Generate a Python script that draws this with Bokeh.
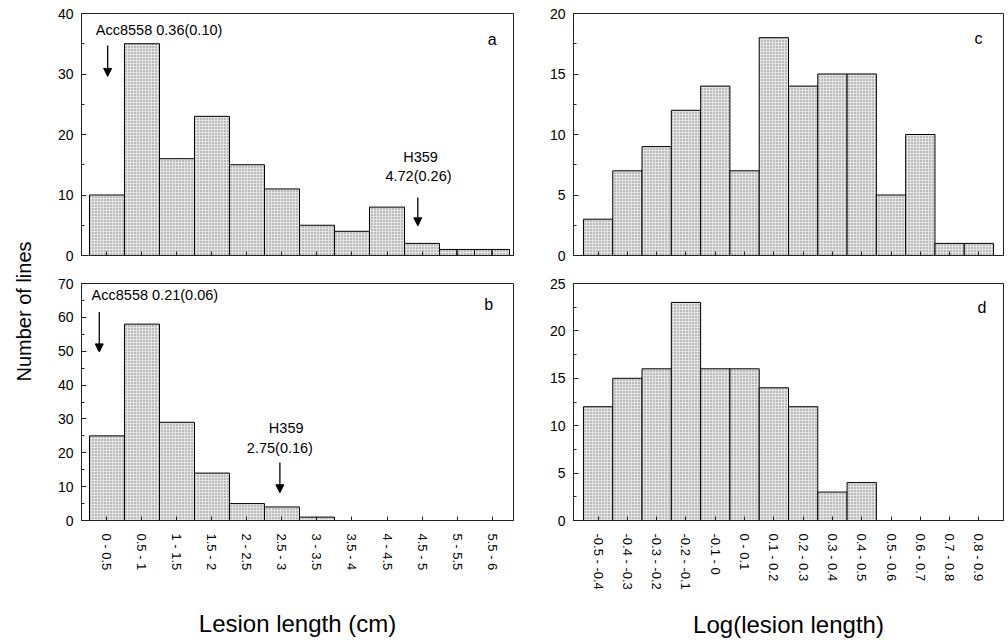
from bokeh.plotting import figure
from bokeh.models import Range1d, FixedTicker, SingleIntervalTicker, Label, Arrow, NormalHead
from bokeh.layouts import row, column
from bokeh.embed import file_html
from bokeh.resources import INLINE

# ---------------- data ----------------
length_labels = ["0 - 0.5", "0.5 - 1", "1 - 1.5", "1.5 - 2", "2 - 2.5", "2.5 - 3",
                 "3 - 3.5", "3.5 - 4", "4 - 4.5", "4.5 - 5", "5 - 5.5", "5.5 - 6"]
length_edges = [0.0, 0.5, 1.0, 1.5, 2.0, 2.5, 3.0, 3.5, 4.0, 4.5, 5.0, 5.5, 6.0]

a_bar_edges = [0.0, 0.5, 1.0, 1.5, 2.0, 2.5, 3.0, 3.5, 4.0, 4.5, 5.0, 5.25, 5.5, 5.75, 6.0]
a_counts = [10, 35, 16, 23, 15, 11, 5, 4, 8, 2, 1, 1, 1, 1]

b_bar_edges = [0.0, 0.5, 1.0, 1.5, 2.0, 2.5, 3.0, 3.5]
b_counts = [25, 58, 29, 14, 5, 4, 1]

log_labels = ["-0.5 - -0.4", "-0.4 - -0.3", "-0.3 - -0.2", "-0.2 - -0.1", "-0.1 - 0",
              "0 - 0.1", "0.1 - 0.2", "0.2 - 0.3", "0.3 - 0.4", "0.4 - 0.5",
              "0.5 - 0.6", "0.6 - 0.7", "0.7 - 0.8", "0.8 - 0.9"]
log_edges = [-0.5, -0.4, -0.3, -0.2, -0.1, 0.0, 0.1, 0.2, 0.3, 0.4, 0.5, 0.6, 0.7, 0.8, 0.9]

c_counts = [3, 7, 9, 12, 14, 7, 18, 14, 15, 15, 5, 10, 1, 1]
d_counts = [12, 15, 16, 23, 16, 16, 14, 12, 3, 4]

FONT = "Liberation Sans"
FILL = "#e4e4e4"


def centers(edges):
    return [round((edges[i] + edges[i + 1]) / 2, 4) for i in range(len(edges) - 1)]


def panel(width, height, xr, yr, yint, tick_edges, tick_labels, show_labels,
          mbl, mbr, mbt, mbb, xlabel=None, xlabel_standoff=10):
    p = figure(width=width, height=height, x_range=Range1d(*xr), y_range=Range1d(*yr),
               output_backend="svg", toolbar_location=None,
               min_border_left=mbl, min_border_right=mbr,
               min_border_top=mbt, min_border_bottom=mbb)
    p.grid.visible = False
    p.outline_line_color = "#222222"
    p.outline_line_width = 1
    p.background_fill_color = "white"
    p.border_fill_color = "white"

    cs = centers(tick_edges)
    xa = p.xaxis[0]
    xa.axis_line_color = "#222222"
    if show_labels:
        xa.ticker = FixedTicker(ticks=cs)
        xa.major_tick_in = 4
        xa.major_tick_out = 0
        xa.major_tick_line_color = "#222222"
        xa.minor_tick_line_color = None
        xa.major_label_overrides = {c: l for c, l in zip(cs, tick_labels)}
        xa.major_label_orientation = "vertical"
        xa.major_label_text_font = FONT
        xa.major_label_text_font_size = "13px"
        xa.major_label_text_color = "black"
        xa.major_label_standoff = 13
    else:
        xa.ticker = FixedTicker(ticks=[], minor_ticks=cs)
        xa.minor_tick_in = 4
        xa.minor_tick_out = 0
        xa.minor_tick_line_color = "#222222"
        xa.major_tick_line_color = None
    if xlabel:
        xa.axis_label = xlabel
        xa.axis_label_text_font = FONT
        xa.axis_label_text_font_size = "24px"
        xa.axis_label_text_font_style = "normal"
        xa.axis_label_text_color = "black"
        xa.axis_label_standoff = xlabel_standoff

    ya = p.yaxis[0]
    ya.ticker = SingleIntervalTicker(interval=yint, num_minor_ticks=2)
    ya.major_tick_in = 5
    ya.major_tick_out = 0
    ya.minor_tick_in = 3
    ya.minor_tick_out = 0
    ya.axis_line_color = "#222222"
    ya.major_tick_line_color = "#222222"
    ya.minor_tick_line_color = "#222222"
    ya.major_label_text_font = FONT
    ya.major_label_text_font_size = "14px"
    ya.major_label_text_color = "black"
    ya.major_label_standoff = 8
    return p


def bars(p, edges, counts):
    p.quad(left=edges[:-1], right=edges[1:], bottom=0, top=counts,
           fill_color=FILL, line_color="black", line_width=1,
           hatch_pattern="dot", hatch_color="#7a7a7a", hatch_scale=3, hatch_weight=1)


def label(p, x, y, text, align="left", size="14.5px"):
    p.add_layout(Label(x=x, y=y, text=text, text_font=FONT, text_font_size=size,
                       text_align=align, text_baseline="middle", text_color="black"))


def arrow(p, x, y0, y1):
    p.add_layout(Arrow(end=NormalHead(size=8, fill_color="black", line_color="black"),
                       x_start=x, y_start=y0, x_end=x, y_end=y1,
                       line_color="black", line_width=1.3))


# ---------------- panels ----------------
XR_LEN = (-0.114, 6.057)
XR_LOG = (-0.534, 0.934)

pa = panel(486, 270, XR_LEN, (0, 40), 10, length_edges, length_labels, False,
           41, 13, 13, 15)
bars(pa, a_bar_edges, a_counts)
label(pa, 0.09, 37.2, "Acc8558 0.36(0.10)")
arrow(pa, 0.26, 34.7, 29.6)
label(pa, 4.73, 16.2, "H359", align="center")
label(pa, 4.70, 13.2, "4.72(0.26)", align="center")
arrow(pa, 4.69, 9.6, 4.9)
label(pa, 5.69, 35.7, "a", size="16px")

pb = panel(486, 370, XR_LEN, (0, 70), 10, length_edges, length_labels, True,
           41, 13, 13, 117, xlabel="Lesion length (cm)", xlabel_standoff=37)
bars(pb, b_bar_edges, b_counts)
label(pb, 0.03, 66.6, "Acc8558 0.21(0.06)")
arrow(pb, 0.14, 61.6, 49.8)
label(pb, 2.81, 27.3, "H359", align="center")
label(pb, 2.72, 21.5, "2.75(0.16)", align="center")
arrow(pb, 2.72, 17.1, 8.2)
label(pb, 5.64, 63.7, "b", size="16px")

pc = panel(480, 270, XR_LOG, (0, 20), 5, log_edges, log_labels, False,
           47, 3, 13, 15)
bars(pc, log_edges, c_counts)
label(pc, 0.835, 17.9, "c", size="16px")

pd = panel(480, 370, XR_LOG, (0, 25), 5, log_edges, log_labels, True,
           47, 3, 13, 117, xlabel="Log(lesion length)", xlabel_standoff=18)
bars(pd, log_edges[:len(d_counts) + 1], d_counts)
label(pd, 0.845, 22.5, "d", size="16px")

# y-axis title holder
py = figure(width=40, height=640, x_range=Range1d(0, 1), y_range=Range1d(0, 1),
            output_backend="svg", toolbar_location=None,
            min_border_left=38, min_border_right=1, min_border_top=111, min_border_bottom=129)
py.outline_line_color = None
py.grid.visible = False
py.xaxis.visible = False
yl = py.yaxis[0]
yl.ticker = FixedTicker(ticks=[])
yl.axis_line_color = None
yl.major_tick_line_color = None
yl.minor_tick_line_color = None
yl.axis_label = "Number of lines"
yl.axis_label_text_font = FONT
yl.axis_label_text_font_size = "20px"
yl.axis_label_text_font_style = "normal"
yl.axis_label_text_color = "black"
yl.axis_label_standoff = 4

layout = row(py, column(pa, pb), column(pc, pd))
open("out.html", "w").write(file_html(layout, INLINE))
